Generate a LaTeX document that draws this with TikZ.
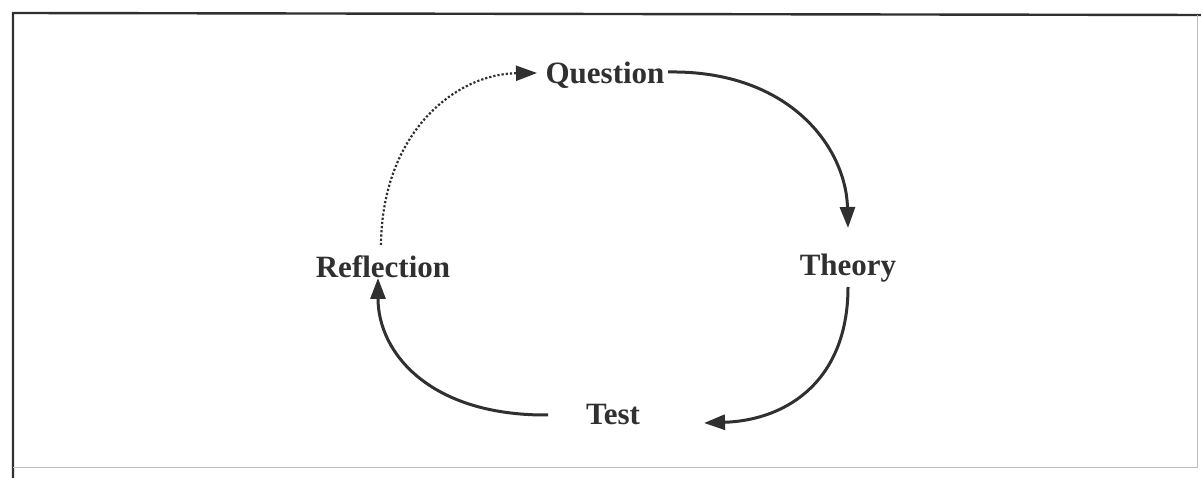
\documentclass[tikz,border=0pt]{standalone}
\usepackage{fontspec}
\setmainfont{Liberation Serif}
\usetikzlibrary{arrows.meta}
\definecolor{ink}{HTML}{303030}
\begin{document}
\begin{tikzpicture}[x=1pt,y=1pt,
  lbl/.style={font=\fontsize{31}{36}\selectfont\bfseries, text=ink, inner sep=0pt},
  cyc/.style={draw=ink, line width=3pt, -{Triangle[length=21pt,width=15pt]}},
  dcyc/.style={draw=ink, line width=2.2pt, dotted, -{Triangle[length=21pt,width=15pt]}}]
\useasboundingbox (0,0) rectangle (1201,478);
\fill[white] (0,0) rectangle (1201,478);
% frame (image y flipped: y = 478 - yimg)
\draw[ink, line width=2.4pt] (13,0) -- (13,465) -- (1201,463);
\draw[black!25, line width=1pt] (13,10) -- (1197,10) -- (1197,463);
% nodes
\node[lbl] (q) at (605,403) {Question};
\node[lbl] (t) at (848,210) {Theory};
\node[lbl] (s) at (613,63) {Test};
\node[lbl] (r) at (383,211) {Reflection};
\coordinate (qin) at (537,405);
\coordinate (tin) at (848,250);
\coordinate (sin) at (704,55);
\coordinate (rin) at (378,200);
\coordinate (qout) at (668,406);
\coordinate (tout) at (848,191);
\coordinate (sout) at (548,63);
\coordinate (rout) at (381,233);
% connectors
\draw[cyc] (qout) .. controls (790,408) and (846,330) .. (tin);
\draw[cyc] (tout) .. controls (848,100) and (790,58) .. (sin);
\draw[cyc] (sout) .. controls (430,62) and (378,125) .. (rin);
\draw[dcyc] (rout) .. controls (382,345) and (455,404) .. (qin);
\end{tikzpicture}
\end{document}
